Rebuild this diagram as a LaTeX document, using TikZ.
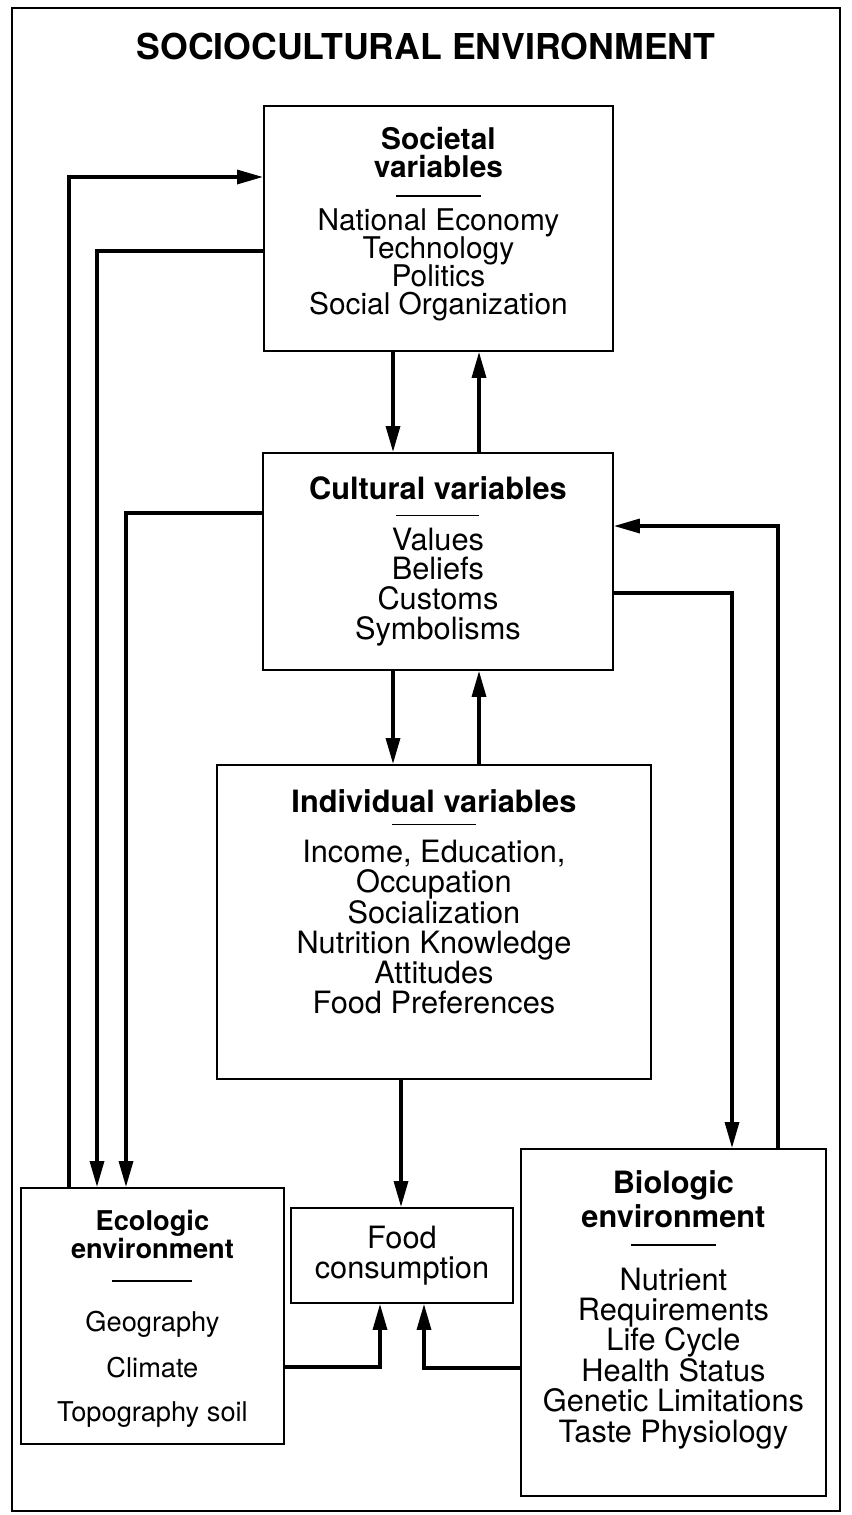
\documentclass[tikz,border=0pt]{standalone}
\usepackage{fontspec}
\setmainfont{TeX Gyre Heros}
\usetikzlibrary{positioning,arrows.meta}

\newcommand{\hd}[1]{\textbf{#1}}
% short rule under a heading: width, space before, space after
\newcommand{\hsep}[3]{\\[#2]\rule[4pt]{#1}{0.9pt}\\[#3]}
\newcommand{\tightlines}{\lineskiplimit-20pt\relax}

\begin{document}
\begin{tikzpicture}[x=0.02cm, y=-0.02cm,
  box/.style={draw, line width=1.1pt, inner sep=0pt, anchor=north west},
  txt/.style={inner sep=0pt, align=center, anchor=north},
  arr/.style={line width=1.9pt, -{Triangle[length=0.52cm,width=0.28cm]}}]
  \useasboundingbox (0,0) rectangle (852,1515);
  \draw[line width=1pt] (12,8) rectangle (840,1511);
  \node[font=\bfseries\fontsize{20.3}{24}\selectfont] (title) at (426,46) {SOCIOCULTURAL ENVIRONMENT};

  % boxes
  \node[box, minimum width=6.98cm, minimum height=4.9cm] (soc) at (263,105) {};
  \node[box, minimum width=7cm, minimum height=4.34cm] (cul) at (262,452) {};
  \node[box, minimum width=8.68cm, minimum height=6.28cm] (ind) at (216,764) {};
  \node[box, minimum width=5.26cm, minimum height=5.12cm] (eco) at (20,1187) {};
  \node[box, minimum width=6.1cm, minimum height=6.94cm] (bio) at (520,1148) {};
  \node[box, align=center, font=\fontsize{17.5}{17}\selectfont,
    minimum width=4.44cm, minimum height=1.9cm] (food) at (290,1207) {Food\\ consumption};

  % box texts
  \node[txt, below=0.44cm of soc.north, font=\fontsize{17}{16}\selectfont\tightlines] (soctxt)
    {\hd{Societal}\\ \hd{variables}\hsep{1.7cm}{-1pt}{-1pt}National Economy\\ Technology\\ Politics\\ Social Organization};
  \node[txt, below=0.48cm of cul.north, font=\fontsize{17.5}{17}\selectfont] (cultxt)
    {\hd{Cultural variables}\hsep{1.66cm}{-3.4pt}{-1.7pt}Values\\ Beliefs\\ Customs\\ Symbolisms};
  \node[txt, below=0.5cm of ind.north, font=\fontsize{17.5}{17.2}\selectfont] (indtxt)
    {\hd{Individual variables}\hsep{1.68cm}{-5.7pt}{0pt}Income, Education,\\ Occupation\\ Socialization\\ Nutrition Knowledge\\ Attitudes\\ Food Preferences};
  \node[txt, below=0.46cm of eco.north, font=\fontsize{15.5}{16}\selectfont] (ecotxt)
    {\hd{Ecologic}\\ \hd{environment}\hsep{1.6cm}{1pt}{8.5pt}Geography\\[10pt] Climate\\[9pt] Topography soil};
  \node[txt, below=0.44cm of bio.north, font=\fontsize{17.5}{17.3}\selectfont] (biotxt)
    {\hd{Biologic}\\[2pt] \hd{environment}\hsep{1.7cm}{-2.8pt}{4pt}Nutrient\\ Requirements\\ Life Cycle\\ Health Status\\ Genetic Limitations\\ Taste Physiology};

  % connectors
  \draw[arr] (soc.south -| 393,0) -- (cul.north -| 393,0);
  \draw[arr] (cul.north -| 479,0) -- (soc.south -| 479,0);
  \draw[arr] (cul.south -| 393,0) -- (ind.north -| 393,0);
  \draw[arr] (ind.north -| 479,0) -- (cul.south -| 479,0);
  \draw[arr] (ind.south -| 401,0) -- (food.north -| 401,0);
  \draw[arr] (eco.north -| 69,0) |- (soc.west |- 0,177);
  \draw[arr] (soc.west |- 0,251) -| (eco.north -| 97,0);
  \draw[arr] (cul.west |- 0,513) -| (eco.north -| 126,0);
  \draw[arr] (cul.east |- 0,593) -| (bio.north -| 732,0);
  \draw[arr] (bio.north -| 778,0) |- (cul.east |- 0,526);
  \draw[arr] (eco.east |- 0,1367) -| (food.south -| 380,0);
  \draw[arr] (bio.west |- 0,1368) -| (food.south -| 424,0);
\end{tikzpicture}
\end{document}
